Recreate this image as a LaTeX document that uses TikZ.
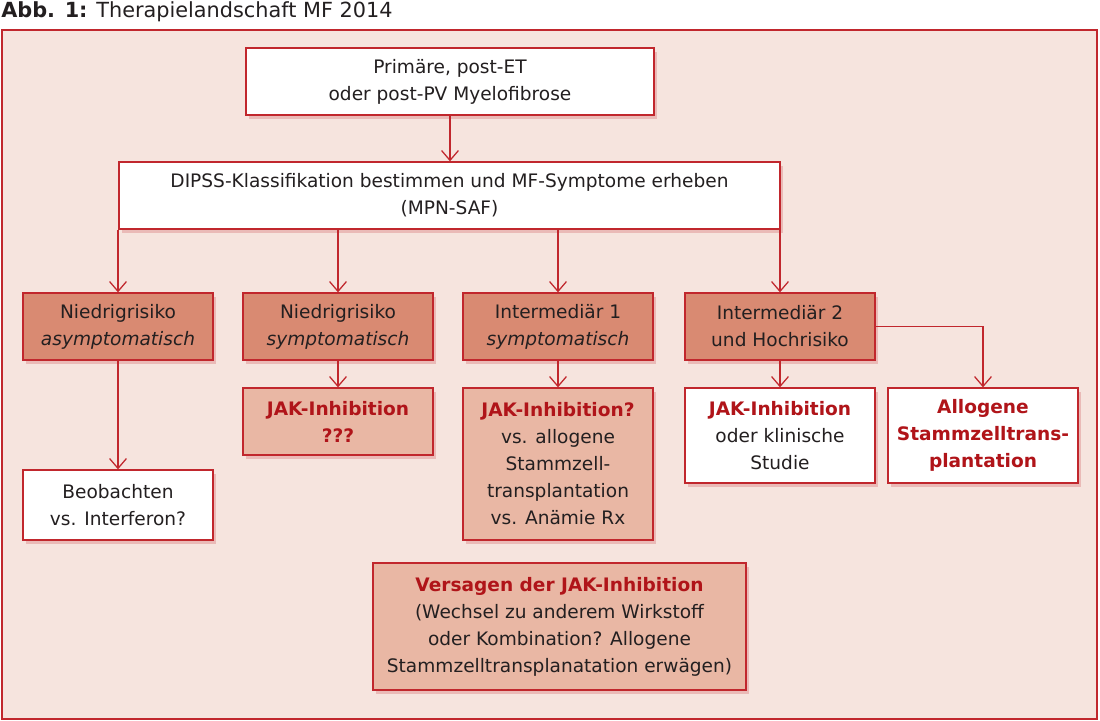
\documentclass[tikz,border=0pt]{standalone}
\usepackage{fontspec}
\setmainfont{DejaVu Sans}
\usetikzlibrary{arrows.meta,shadows}
\definecolor{panelbg}{HTML}{F6E4DE}
\definecolor{framered}{HTML}{C1272D}
\definecolor{textred}{HTML}{B01419}
\definecolor{textdark}{HTML}{231F20}
\definecolor{boxdark}{HTML}{D98A72}
\definecolor{boxlight}{HTML}{E9B7A4}
\newcommand{\hl}[1]{\textcolor{textred}{\textbf{#1}}}

\begin{document}
\begin{tikzpicture}[x=0.025cm,y=-0.025cm,
	box/.style={draw=framered,line width=0.9pt,fill=white,text=textdark,align=center,inner sep=0pt,
		minimum width=4.75cm,minimum height=1.675cm,font=\fontsize{13.2}{19.2}\selectfont,
		drop shadow={shadow xshift=2pt,shadow yshift=-3pt,fill=framered,opacity=0.22}},
	darkbox/.style={box,fill=boxdark},
	lightbox/.style={box,fill=boxlight},
	arr/.style={framered,line width=0.9pt,-{Straight Barb[length=7pt,width=12pt]}}]
		%%%%% START %%%%%
		\useasboundingbox (0,0) rectangle (1100,721);
		
		\node[anchor=base west,inner sep=0pt,text=textdark,font=\fontsize{14.8}{17}\selectfont] (title) at (1,18) {\textbf{Abb. 1:} Therapielandschaft MF 2014};
		\draw[framered,line width=1pt,fill=panelbg] (2,30) rectangle (1097,719);
		
		\node[box,minimum width=10.2cm] (prim) at (450,81.5) {Primäre, post-ET\\oder post-PV Myelofibrose};
		\node[box,minimum width=16.525cm] (dipss) at (449.5,195.5) {DIPSS-Klassifikation bestimmen und MF-Symptome erheben\\(MPN-SAF)};
		
		\node[darkbox] (nra) at (118,326.5) {Niedrigrisiko\\\textit{asymptomatisch}};
		\node[darkbox] (nrs) at (338,326.5) {Niedrigrisiko\\\textit{symptomatisch}};
		\node[darkbox] (im1) at (558,326.5) {Intermediär 1\\\textit{symptomatisch}};
		\node[darkbox] (im2) at (780,326.5) {Intermediär 2\\und Hochrisiko};
		
		\node[lightbox] (jaka) at (338,421.5) {\hl{JAK-Inhibition}\\\hl{???}};
		\node[lightbox,minimum height=3.8cm] (jakb) at (558,464) {\hl{JAK-Inhibition?}\\vs. allogene\\Stammzell-\\transplantation\\vs. Anämie Rx};
		\node[box,minimum height=2.375cm] (jakc) at (780,435.5) {\hl{JAK-Inhibition}\\oder klinische\\Studie};
		\node[box,minimum height=2.375cm] (allo) at (983,435.5) {\hl{Allogene}\\\hl{Stammzelltrans-}\\\hl{plantation}};
		\node[box,minimum height=1.75cm] (beob) at (118,505) {Beobachten\\vs. Interferon?};
		
		\node[lightbox,minimum width=9.325cm,minimum height=3.175cm] (vers) at (559.5,626.5) {\hl{Versagen der JAK-Inhibition}\\(Wechsel zu anderem Wirkstoff\\oder Kombination? Allogene\\Stammzelltransplanatation erwägen)};
		
		\draw[arr] (prim.south) -- (prim.south |- dipss.north);
		\foreach \n in {nra,nrs,im1,im2}
			\draw[arr] (dipss.south -| \n.north) -- (\n.north);
		\draw[arr] (nra.south) -- (beob.north);
		\draw[arr] (nrs.south) -- (jaka.north);
		\draw[arr] (im1.south) -- (jakb.north);
		\draw[arr] (im2.south) -- (jakc.north);
		\draw[arr] (im2.east) -| (allo.north);
		
		%%%%% END %%%%%
	\end{tikzpicture}
\end{document}
